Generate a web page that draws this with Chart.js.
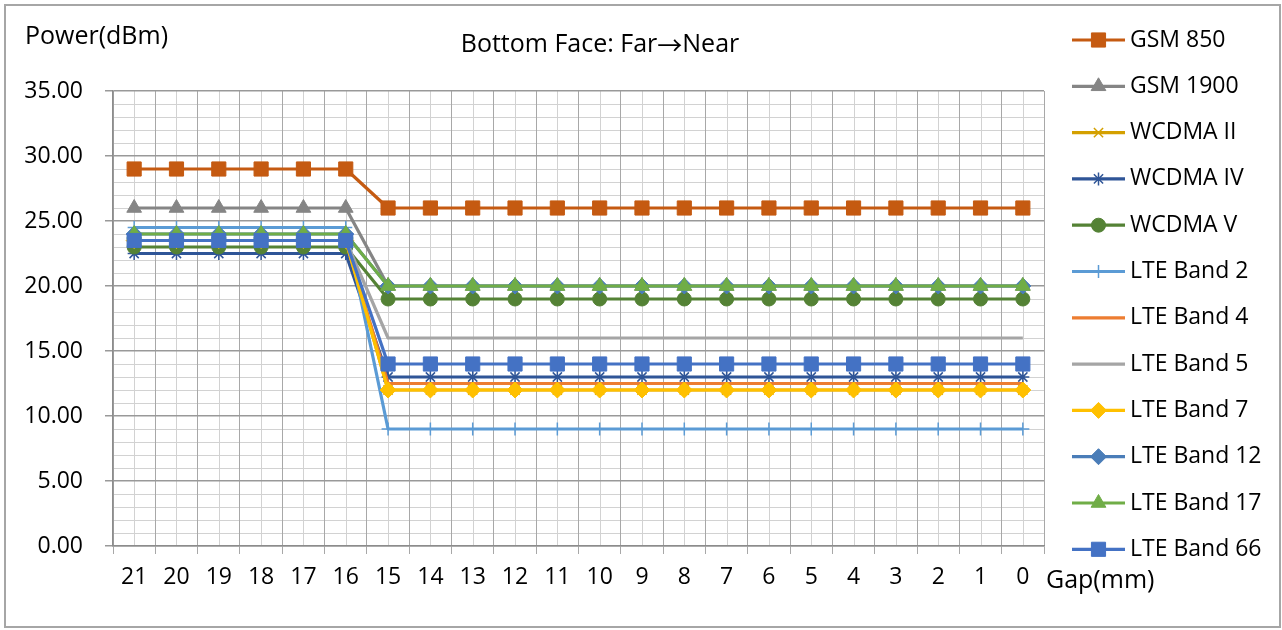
<!DOCTYPE html>
<html>
<head>
<meta charset="utf-8">
<script src="https://cdn.jsdelivr.net/npm/chart.js@4.4.0/dist/chart.umd.min.js"></script>
<style>
  html, body { margin: 0; padding: 0; background: #fff; }
  #wrap { width: 1282px; height: 630px; }
</style>
</head>
<body>
<div id="wrap"><canvas id="chart" width="1282" height="630"></canvas></div>
<script>
// data
const gaps = ['21', '20', '19', '18', '17', '16', '15', '14', '13', '12', '11',
              '10', '9', '8', '7', '6', '5', '4', '3', '2', '1', '0'];
const yMin = 0;
const yMax = 35;
const yStep = 5;

const gsm850   = [29, 29, 29, 29, 29, 29, 26, 26, 26, 26, 26, 26, 26, 26, 26, 26, 26, 26, 26, 26, 26, 26];
const gsm1900  = [26, 26, 26, 26, 26, 26, 20, 20, 20, 20, 20, 20, 20, 20, 20, 20, 20, 20, 20, 20, 20, 20];
const wcdma2   = [23.5, 23.5, 23.5, 23.5, 23.5, 23.5, 12, 12, 12, 12, 12, 12, 12, 12, 12, 12, 12, 12, 12, 12, 12, 12];
const wcdma4   = [22.5, 22.5, 22.5, 22.5, 22.5, 22.5, 13, 13, 13, 13, 13, 13, 13, 13, 13, 13, 13, 13, 13, 13, 13, 13];
const wcdma5   = [23, 23, 23, 23, 23, 23, 19, 19, 19, 19, 19, 19, 19, 19, 19, 19, 19, 19, 19, 19, 19, 19];
const lte2     = [24.5, 24.5, 24.5, 24.5, 24.5, 24.5, 9, 9, 9, 9, 9, 9, 9, 9, 9, 9, 9, 9, 9, 9, 9, 9];
const lte4     = [23.5, 23.5, 23.5, 23.5, 23.5, 23.5, 12.5, 12.5, 12.5, 12.5, 12.5, 12.5, 12.5, 12.5, 12.5, 12.5, 12.5, 12.5, 12.5, 12.5, 12.5, 12.5];
const lte5     = [23.5, 23.5, 23.5, 23.5, 23.5, 23.5, 16, 16, 16, 16, 16, 16, 16, 16, 16, 16, 16, 16, 16, 16, 16, 16];
const lte7     = [23.5, 23.5, 23.5, 23.5, 23.5, 23.5, 12, 12, 12, 12, 12, 12, 12, 12, 12, 12, 12, 12, 12, 12, 12, 12];
const lte12    = [24, 24, 24, 24, 24, 24, 20, 20, 20, 20, 20, 20, 20, 20, 20, 20, 20, 20, 20, 20, 20, 20];
const lte17    = [24, 24, 24, 24, 24, 24, 20, 20, 20, 20, 20, 20, 20, 20, 20, 20, 20, 20, 20, 20, 20, 20];
const lte66    = [23.5, 23.5, 23.5, 23.5, 23.5, 23.5, 14, 14, 14, 14, 14, 14, 14, 14, 14, 14, 14, 14, 14, 14, 14, 14];

const FONT = "'Open Sans', 'Liberation Sans', sans-serif";
const FS = 23;      // ticks and legend
const FS_BIG = 25;  // title and axis names

// label, values, colour, marker, marker radius
const series = [
    ['GSM 850',     gsm850,  '#C55A11', 'rect',     10],
    ['GSM 1900',    gsm1900, '#858585', 'triangle', 8.5],
    ['WCDMA II',    wcdma2,  '#D4A000', 'crossRot', 6.5],
    ['WCDMA IV',    wcdma4,  '#2F5597', 'star',     6.5],
    ['WCDMA V',     wcdma5,  '#548235', 'circle',   7],
    ['LTE Band 2',  lte2,    '#5B9BD5', 'cross',    6.5],
    ['LTE Band 4',  lte4,    '#ED7D31', 'circle',   0],
    ['LTE Band 5',  lte5,    '#A5A5A5', 'circle',   0],
    ['LTE Band 7',  lte7,    '#FFC000', 'rectRot',  8],
    ['LTE Band 12', lte12,   '#4A7DB8', 'rectRot',  8],
    ['LTE Band 17', lte17,   '#70AD47', 'triangle', 8.5],
    ['LTE Band 66', lte66,   '#4472C4', 'rect',     10]
];

const datasets = series.map(([label, data, color, style, r], i) => ({
    label: label,
    data: data,
    borderColor: color,
    backgroundColor: color,
    borderWidth: 3.2,
    borderJoinStyle: 'round',
    pointStyle: style,
    pointRadius: r,
    pointHoverRadius: r,
    pointBackgroundColor: color,
    pointBorderColor: color,
    pointBorderWidth: (style === 'cross' || style === 'crossRot' || style === 'star') ? 1.5 : 1,
    order: series.length - i   // later series on top, like the original
}));

function hline(ctx, x1, x2, y) {
    ctx.beginPath(); ctx.moveTo(x1, y); ctx.lineTo(x2, y); ctx.stroke();
}
function vline(ctx, x, y1, y2) {
    ctx.beginPath(); ctx.moveTo(x, y1); ctx.lineTo(x, y2); ctx.stroke();
}

const decor = {
    id: 'decor',
    beforeDraw(chart) {
        const { ctx, chartArea: a, scales: { x, y } } = chart;
        ctx.save();
        ctx.fillStyle = '#fff';
        ctx.fillRect(0, 0, chart.width, chart.height);
        // minor grid: category centres and every 1 dBm
        ctx.strokeStyle = '#d2d2d2';
        ctx.lineWidth = 1;
        for (let i = 0; i < gaps.length; i++) {
            const px = Math.round(x.getPixelForValue(i)) + 0.5;
            vline(ctx, px, a.top, a.bottom);
        }
        for (let v = yMin + 1; v < yMax; v++) {
            if (v % yStep === 0) continue;
            const py = Math.round(y.getPixelForValue(v)) + 0.5;
            hline(ctx, a.left, a.right, py);
        }
        ctx.restore();
    },
    afterDraw(chart) {
        const { ctx, chartArea: a } = chart;
        ctx.save();
        // outer frame
        ctx.strokeStyle = '#a6a6a6';
        ctx.lineWidth = 2;
        ctx.strokeRect(5, 5, chart.width - 7, chart.height - 8);

        ctx.fillStyle = '#000';
        ctx.font = FS_BIG + 'px ' + FONT;
        ctx.textBaseline = 'middle';
        ctx.textAlign = 'left';
        ctx.fillText('Power(dBm)', 25, 37);
        ctx.fillText('Gap(mm)', a.right + 2, 581);

        // title, with a wide arrow taken from the CJK font
        const t1 = 'Bottom Face: Far', arrow = '\u2192', t2 = 'Near';
        const textFont = FS_BIG + 'px ' + FONT;
        const arrowFont = FS_BIG + "px 'Noto Sans CJK SC', 'DejaVu Sans', sans-serif";
        const w1 = ctx.measureText(t1).width;
        const w3 = ctx.measureText(t2).width;
        ctx.font = arrowFont;
        const w2 = ctx.measureText(arrow).width;
        const tx = 600 - (w1 + w2 + w3) / 2;
        ctx.font = textFont;
        ctx.fillText(t1, tx, 45);
        ctx.font = arrowFont;
        ctx.fillText(arrow, tx + w1, 45);
        ctx.font = textFont;
        ctx.fillText(t2, tx + w1 + w2, 45);

        // legend: line + marker like the original
        ctx.font = FS + 'px ' + FONT;
        const lx1 = 1072, lx2 = 1125, top = 40, step = 46.3;
        chart.data.datasets.forEach((ds, i) => {
            const cy = top + i * step;
            ctx.strokeStyle = ds.borderColor;
            ctx.lineWidth = ds.borderWidth;
            hline(ctx, lx1, lx2, cy);
            if (ds.pointRadius > 0 && Chart.helpers && Chart.helpers.drawPoint) {
                ctx.fillStyle = ds.pointBackgroundColor;
                ctx.strokeStyle = ds.pointBorderColor;
                ctx.lineWidth = ds.pointBorderWidth;
                Chart.helpers.drawPoint(ctx, {
                    pointStyle: ds.pointStyle,
                    radius: ds.pointRadius,
                    rotation: 0,
                    borderWidth: ds.pointBorderWidth
                }, (lx1 + lx2) / 2, cy);
            }
            ctx.fillStyle = '#000';
            ctx.fillText(ds.label, 1130, cy);
        });
        ctx.restore();
    }
};

new Chart(document.getElementById('chart'), {
    type: 'line',
    data: { labels: gaps, datasets: datasets },
    options: {
        responsive: false,
        animation: false,
        events: [],
        layout: { padding: { left: 0, top: 91, right: 238, bottom: 0 } },
        plugins: {
            legend: { display: false },
            title: { display: false },
            tooltip: { enabled: false }
        },
        scales: {
            x: {
                type: 'category',
                offset: true,
                afterFit(scale) { scale.height = 84; },
                grid: {
                    offset: true,
                    color: '#a8a8a8',
                    lineWidth: 1,
                    tickLength: 8,
                    drawTicks: true
                },
                border: { color: '#8c8c8c', width: 1.5 },
                ticks: {
                    color: '#000',
                    font: { family: FONT, size: FS },
                    padding: 10,
                    maxRotation: 0,
                    autoSkip: false
                }
            },
            y: {
                min: yMin,
                max: yMax,
                afterFit(scale) { scale.width = 113; },
                grid: {
                    color: '#999999',
                    lineWidth: 1.5,
                    tickLength: 8
                },
                border: { color: '#8c8c8c', width: 1.5 },
                ticks: {
                    stepSize: yStep,
                    color: '#000',
                    font: { family: FONT, size: FS },
                    padding: 22,
                    callback: v => Number(v).toFixed(2)
                }
            }
        }
    },
    plugins: [decor]
});
</script>
</body>
</html>
